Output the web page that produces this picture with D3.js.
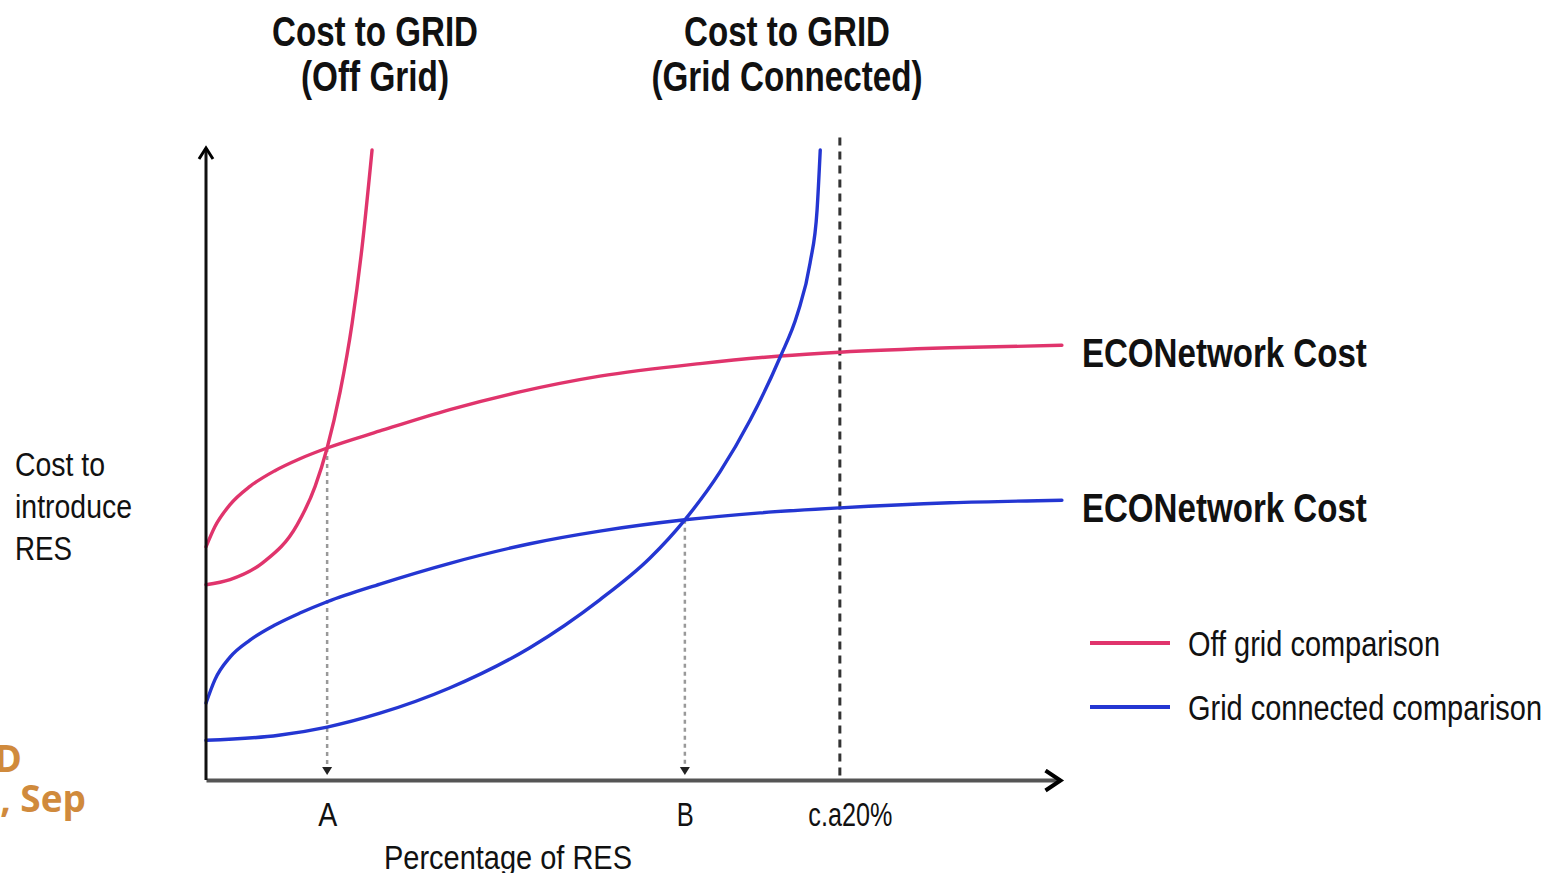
<!DOCTYPE html>
<html>
<head>
<meta charset="utf-8">
<script src="https://cdn.jsdelivr.net/npm/d3@7"></script>
<style>
	body { margin: 0; background: #fff; }
	svg text { font-family: "Liberation Sans", Arial, sans-serif; fill: #111; }
</style>
</head>
<body>
<div id="chart"></div>
<script>
// percentage of RES (x) vs cost to introduce RES (y)
var offGridEco = [[0, 37.0], [0.28, 40.2], [0.76, 43.7], [1.39, 46.6], [2.18, 49.1], [2.97, 51.0], [3.83, 52.7], [5.5, 55.4], [7.71, 58.8], [9.92, 61.6], [12.45, 64.1], [15.62, 66.1], [18.15, 67.3], [20.04, 67.9], [23.52, 68.6], [27.06, 69.0]];
var offGridCost = [[0, 31.0], [0.76, 31.8], [1.8, 34.5], [2.88, 40.5], [3.45, 46.6], [3.83, 52.7], [4.24, 61.6], [4.62, 72.5], [4.93, 84.4], [5.25, 100]];
var gridEco = [[0, 12.2], [0.28, 15.9], [0.76, 19.5], [1.39, 22.2], [2.18, 24.6], [2.97, 26.5], [3.83, 28.3], [5.5, 31.1], [7.71, 34.4], [10.24, 37.5], [12.45, 39.5], [15.14, 41.3], [17.52, 42.4], [20.04, 43.2], [23.52, 44.0], [27.06, 44.4]];
var gridCost = [[0, 6.3], [2.3, 7.1], [3.83, 8.4], [5.5, 10.6], [7.7, 14.6], [10.24, 21.0], [12.45, 28.6], [14.03, 35.2], [15.14, 41.3], [16.25, 48.9], [17.2, 57.1], [18.15, 67.1], [18.7, 74.0], [19.1, 82.1], [19.32, 90.5], [19.42, 100]];

var tickLabels = ['A', 'B', 'c.a20%'];
var tickValues = [3.83, 15.14, 20.04];
var guideTops = [52.7, 41.3, 102];

var seriesNames = ['Off grid comparison', 'Grid connected comparison'];
var colors = ['#e0346c', '#2436d2'];

var W = 1547, H = 873;
var svg = d3.select('#chart').append('svg').attr('width', W).attr('height', H);

var x = d3.scaleLinear().domain([0, 27]).range([206, 1060]);
var y = d3.scaleLinear().domain([0, 100]).range([780, 150]);

// the lettering in the picture is squeezed sideways, so widths are fixed with textLength
var label = function(t, px, py, size, len, anchor, bold) {
	return svg.append('text').attr('x', px).attr('y', py).attr('font-size', size)
		.attr('text-anchor', anchor || 'start').attr('font-weight', bold ? 'bold' : 'normal')
		.attr('textLength', len).attr('lengthAdjust', 'spacingAndGlyphs').text(t);
};

var defs = svg.append('defs');
defs.append('marker').attr('id', 'arrX').attr('markerUnits', 'userSpaceOnUse')
	.attr('viewBox', '-20 -12 24 24').attr('markerWidth', 24).attr('markerHeight', 24)
	.attr('refX', 0).attr('refY', 0).attr('orient', 'auto')
	.append('path').attr('d', 'M-15,-10L0,0L-15,10').attr('fill', 'none').attr('stroke', '#000').attr('stroke-width', 4);
defs.append('marker').attr('id', 'arrY').attr('markerUnits', 'userSpaceOnUse')
	.attr('viewBox', '-16 -10 20 20').attr('markerWidth', 20).attr('markerHeight', 20)
	.attr('refX', 0).attr('refY', 0).attr('orient', 'auto')
	.append('path').attr('d', 'M-11,-7L0,0L-11,7').attr('fill', 'none').attr('stroke', '#000').attr('stroke-width', 3);
defs.append('marker').attr('id', 'arrDot').attr('markerUnits', 'userSpaceOnUse')
	.attr('viewBox', '-10 -6 12 12').attr('markerWidth', 12).attr('markerHeight', 12)
	.attr('refX', 0).attr('refY', 0).attr('orient', 'auto')
	.append('path').attr('d', 'M-8,-5L0,0L-8,5Z').attr('fill', '#222');

// guide lines down to A, B and c.a20%
tickValues.forEach(function(v, i) {
	var dashed = i == 2;
	svg.append('line')
		.attr('x1', x(v)).attr('x2', x(v))
		.attr('y1', y(guideTops[i])).attr('y2', dashed ? y(0) : y(0) - 5)
		.attr('stroke', dashed ? '#333' : '#999')
		.attr('stroke-width', dashed ? 3 : 2.5)
		.attr('stroke-dasharray', dashed ? '8,6' : '4,4')
		.attr('marker-end', dashed ? null : 'url(#arrDot)');
});

var line = d3.line().x(function(d) { return x(d[0]); }).y(function(d) { return y(d[1]); }).curve(d3.curveMonotoneX);

[[offGridEco, 0], [offGridCost, 0], [gridEco, 1], [gridCost, 1]].forEach(function(s) {
	svg.append('path').datum(s[0]).attr('d', line)
		.attr('fill', 'none').attr('stroke', colors[s[1]]).attr('stroke-width', 3.4)
		.attr('stroke-linecap', 'round');
});

// axes
var tickLens = [19, 17, 84];
var xAxis = svg.append('g').attr('transform', 'translate(0,' + y(0) + ')')
	.call(d3.axisBottom(x).tickValues(tickValues).tickFormat(function(d, i) { return tickLabels[i]; }).tickSize(0).tickSizeOuter(0).tickPadding(23));
xAxis.select('.domain').attr('stroke', '#555').attr('stroke-width', 4).attr('marker-end', 'url(#arrX)');
xAxis.selectAll('.tick text').attr('font-size', 33).attr('font-family', '"Liberation Sans", Arial, sans-serif').attr('fill', '#111')
	.attr('textLength', function(d, i) { return tickLens[i]; }).attr('lengthAdjust', 'spacingAndGlyphs');
xAxis.selectAll('.tick').filter(function(d, i) { return i == 2; }).select('text').attr('dx', 10);

var yAxis = svg.append('g').attr('transform', 'translate(' + x(0) + ',0)')
	.call(d3.axisLeft(y).tickValues([]).tickSizeOuter(0));
yAxis.select('.domain').attr('stroke', '#111').attr('stroke-width', 3).attr('marker-end', 'url(#arrY)');
yAxis.select('.domain').attr('d', 'M0,' + y(0) + 'V' + (y(100) - 2));

label('Percentage of RES', 508, 869, 34, 248, 'middle');

[['Cost to', 90], ['introduce', 117], ['RES', 57]].forEach(function(t, i) {
	label(t[0], 15, 476 + i * 42, 33, t[1]);
});

// titles over the steep cost curves
[['Cost to GRID', 206, '(Off Grid)', 148, 375], ['Cost to GRID', 206, '(Grid Connected)', 271, 787]].forEach(function(t) {
	label(t[0], t[4], 46, 43, t[1], 'middle', true);
	label(t[2], t[4], 91, 43, t[3], 'middle', true);
});

[offGridEco, gridEco].forEach(function(s) {
	var last = s[s.length - 1];
	label('ECONetwork Cost', x(last[0]) + 20, y(last[1]) + 22, 41, 285, 'start', true);
});

// legend
var legendLens = [252, 354];
seriesNames.forEach(function(n, i) {
	var ly = 643 + i * 64;
	svg.append('line').attr('x1', 1090).attr('x2', 1170).attr('y1', ly).attr('y2', ly)
		.attr('stroke', colors[i]).attr('stroke-width', 4);
	label(n, 1188, ly + 13, 35, legendLens[i]);
});

// cut off text at left edge
svg.append('text').attr('x', 22).attr('y', 772).attr('text-anchor', 'end')
	.style('font-family', '"Open Sans", sans-serif').style('fill', '#d08a3c').attr('font-size', 37).attr('font-weight', 'bold').text('D');
svg.append('text').attr('x', 86).attr('y', 812).attr('text-anchor', 'end')
	.style('font-family', '"Open Sans", sans-serif').style('fill', '#d08a3c').attr('font-size', 37).attr('font-weight', 'bold').text(', Sep');
</script>
</body>
</html>
